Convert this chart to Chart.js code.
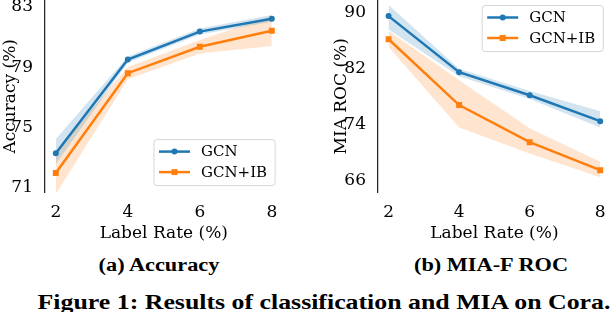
<!DOCTYPE html>
<html>
<head>
<meta charset="utf-8">
<script src="https://cdn.jsdelivr.net/npm/chart.js@4.4.1/dist/chart.umd.min.js"></script>
<style>
  html, body { margin: 0; padding: 0; background: #fff; }
  body { width: 614px; height: 312px; position: relative; overflow: hidden; }
  canvas { position: absolute; }
  #accChart { left: 0; top: -20px; }
  #rocChart { left: 331px; top: -20px; }
  .cap {
    position: absolute; white-space: nowrap; font-family: "Liberation Serif", serif;
    font-weight: bold; color: #000; line-height: 1; transform: translateX(-50%) scaleX(1.2);
  }
</style>
</head>
<body>
<canvas id="accChart" width="307" height="262"></canvas>
<canvas id="rocChart" width="284" height="262"></canvas>
<div class="cap" style="left:159px; top:256px; font-size:18.6px;">(a) Accuracy</div>
<div class="cap" style="left:491px; top:256px; font-size:18.6px;">(b) MIA-F ROC</div>
<div class="cap" style="left:324px; top:292px; font-size:21px; transform: translateX(-50%) scaleX(1.23);">Figure 1: Results of classification and MIA on Cora.</div>
<script>
const labelRates = [2, 4, 6, 8];
const accTicks = [71, 75, 79, 83];
const rocTicks = [66, 74, 82, 90];

// accuracy (%), mean and shaded band
const accGcn     = [73.3, 79.5, 81.35, 82.2];
const accGcnLow  = [72.6, 79.3, 81.15, 82.0];
const accGcnHigh = [74.25, 79.7, 81.55, 82.45];
const accIb      = [72.0, 78.6, 80.35, 81.4];
const accIbLow   = [70.6, 78.2, 79.9, 80.4];
const accIbHigh  = [73.4, 79.0, 80.8, 82.4];

// MIA ROC (%)
const rocGcn     = [89.5, 81.5, 78.2, 74.5];
const rocGcnLow  = [87.6, 80.9, 77.65, 73.6];
const rocGcnHigh = [91.1, 82.0, 78.8, 75.9];
const rocIb      = [86.2, 76.8, 71.5, 67.5];
const rocIbLow   = [85.1, 73.6, 69.9, 66.5];
const rocIbHigh  = [87.4, 80.35, 73.5, 68.7];

const BLUE = '#1f77b4', ORANGE = '#ff7f0e';
const FONT = '"DejaVu Serif", serif';
Chart.defaults.font.family = FONT;
Chart.defaults.color = '#000';

const pts = ys => labelRates.map((x, i) => ({x: x, y: ys[i]}));

// matplotlib style legend box drawn inside the plot area
const boxLegend = {
  id: 'boxLegend',
  afterDraw(chart, args, opts) {
    const ctx = chart.ctx, area = chart.chartArea;
    const items = chart.data.datasets.filter(d => d.inLegend);
    ctx.save();
    ctx.font = '15px ' + FONT;
    const textW = Math.max(...items.map(d => ctx.measureText(d.label).width));
    const w = 5 + 31 + 11 + textW + 8, h = 46;
    const x = area.right - 7.5 - w;
    const y = opts.anchor === 'bottom' ? area.bottom - 7 - h : area.top + 5.5;
    ctx.beginPath();
    ctx.roundRect(x, y, w, h, 3);
    ctx.fillStyle = 'rgba(255,255,255,0.8)';
    ctx.fill();
    ctx.strokeStyle = 'rgba(204,204,204,0.8)';
    ctx.lineWidth = 1;
    ctx.stroke();
    items.forEach((d, i) => {
      const cy = y + 12 + i * 20.5;
      ctx.beginPath();
      ctx.moveTo(x + 5, cy);
      ctx.lineTo(x + 36, cy);
      ctx.strokeStyle = d.borderColor;
      ctx.lineWidth = d.borderWidth;
      ctx.stroke();
      ctx.fillStyle = d.borderColor;
      ctx.beginPath();
      if (d.pointStyle === 'rect') ctx.rect(x + 20.5 - 3, cy - 3, 6, 6);
      else ctx.arc(x + 20.5, cy, 3, 0, Math.PI * 2);
      ctx.fill();
      ctx.fillStyle = '#000';
      ctx.textBaseline = 'middle';
      ctx.fillText(d.label, x + 47, cy + 1);
    });
    ctx.restore();
  }
};

function lineSet(label, ys, color, style, radius) {
  return {
    label: label, data: pts(ys), inLegend: true,
    borderColor: color, backgroundColor: color, borderWidth: 2.5,
    pointStyle: style, pointRadius: radius, pointBorderWidth: 0,
    pointBackgroundColor: color, fill: false, tension: 0
  };
}

function bandSets(low, high, rgba) {
  return [
    {data: pts(low), borderWidth: 0, pointRadius: 0, fill: false},
    {data: pts(high), borderWidth: 0, pointRadius: 0, fill: '-1', backgroundColor: rgba}
  ];
}

function makeChart(id, c) {
  new Chart(document.getElementById(id), {
    type: 'line',
    data: {
      datasets: [
        lineSet('GCN', c.gcn, BLUE, 'circle', 3),
        lineSet('GCN+IB', c.ib, ORANGE, 'rect', 4.2),
        ...bandSets(c.gcnLow, c.gcnHigh, 'rgba(31,119,180,0.2)'),
        ...bandSets(c.ibLow, c.ibHigh, 'rgba(255,127,14,0.2)')
      ]
    },
    options: {
      responsive: false,
      animation: false,
      layout: {padding: {top: 20, right: c.padRight, bottom: 0, left: 0}},
      plugins: {
        legend: {display: false},
        tooltip: {enabled: false},
        boxLegend: {anchor: c.legendAt}
      },
      scales: {
        x: {
          type: 'linear', min: 1.7, max: 8.3,
          afterBuildTicks: s => { s.ticks = labelRates.map(v => ({value: v})); },
          grid: {display: false},
          border: {display: false},
          ticks: {padding: 2, maxRotation: 0, font: {size: 17}},
          title: {display: true, text: 'Label Rate (%)', padding: 0, font: {size: 17, lineHeight: 1}}
        },
        y: {
          min: c.yMin, max: c.yMax,
          afterBuildTicks: s => { s.ticks = c.yTicks.map(v => ({value: v})); },
          afterFit: s => { s.width = c.axisWidth; },
          grid: {display: false},
          border: {display: true, color: '#262626', width: 1.25},
          ticks: {padding: 4, font: {size: 17}},
          title: {display: true, text: c.yTitle, padding: 0, font: {size: 17}}
        }
      }
    },
    plugins: [boxLegend]
  });
}

makeChart('accChart', {
  gcn: accGcn, gcnLow: accGcnLow, gcnHigh: accGcnHigh,
  ib: accIb, ibLow: accIbLow, ibHigh: accIbHigh,
  yMin: 70.7, yMax: 83.44, yTicks: accTicks, yTitle: 'Accuracy (%)',
  axisWidth: 45, padRight: 24.4, legendAt: 'bottom'
});

makeChart('rocChart', {
  gcn: rocGcn, gcnLow: rocGcnLow, gcnHigh: rocGcnHigh,
  ib: rocIb, ibLow: rocIbLow, ibHigh: rocIbHigh,
  yMin: 64.3, yMax: 91.8, yTicks: rocTicks, yTitle: 'MIA ROC (%)',
  axisWidth: 47, padRight: 0, legendAt: 'top'
});
</script>
</body>
</html>
